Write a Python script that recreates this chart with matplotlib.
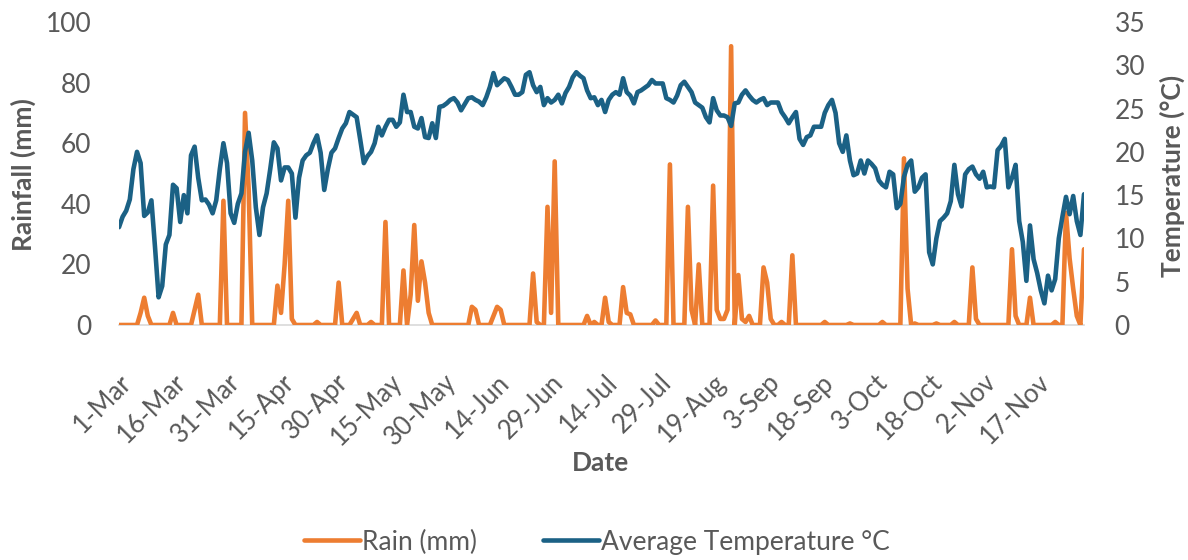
import matplotlib
matplotlib.use('Agg')
import matplotlib.pyplot as plt
import numpy as np

tick_labels = ['1-Mar', '16-Mar', '31-Mar', '15-Apr', '30-Apr', '15-May', '30-May',
               '14-Jun', '29-Jun', '14-Jul', '29-Jul', '19-Aug', '3-Sep', '18-Sep',
               '3-Oct', '18-Oct', '2-Nov', '17-Nov']

rain = [
    0, 0, 0, 0, 0, 0, 4, 9, 3, 0, 0, 0, 0, 0, 0,
    4, 0, 0, 0, 0, 0, 5, 10, 0, 0, 0, 0, 0, 0, 41,
    0, 0, 0, 0, 0, 70, 45, 0, 0, 0, 0, 0, 0, 0, 13,
    4, 20, 41, 2, 0, 0, 0, 0, 0, 0, 1, 0, 0, 0, 0,
    0, 14, 0, 0, 0, 2, 4, 0, 0, 0, 1, 0, 0, 0, 34,
    0, 0, 0, 0, 18, 0, 10, 33, 8, 21, 14, 4, 0, 0, 0,
    0, 0, 0, 0, 0, 0, 0, 0, 6, 5, 0, 0, 0, 0, 3,
    6, 5, 0, 0, 0, 0, 0, 0, 0, 0, 17, 1, 0, 0, 39,
    4, 54, 0, 0, 0, 0, 0, 0, 0, 0, 3, 0, 1, 0, 0,
    9, 1, 0, 0, 0, 12.5, 4, 3.5, 0, 0, 0, 0, 0, 0, 1.5,
    0, 0, 0, 53, 0, 0, 0, 0, 39, 5, 0, 20, 0, 0, 0,
    46, 5, 2, 2, 5, 92, 0, 16.5, 2, 1, 3, 0, 0, 0, 19,
    14, 2, 0, 0, 1, 0, 0, 23, 0, 0, 0, 0, 0, 0, 0,
    0, 1, 0, 0, 0, 0, 0, 0, 0.5, 0, 0, 0, 0, 0, 0,
    0, 0, 1, 0, 0, 0, 0, 0, 55, 12, 0, 0.5, 0, 0, 0,
    0, 0, 0.5, 0, 0, 0, 0, 1, 0, 0, 0, 0, 19, 2, 0,
    0, 0, 0, 0, 0, 0, 0, 0, 25, 3, 0, 0, 0, 9, 0,
    0, 0, 0, 0, 0, 1, 0, 0, 37, 22, 12, 3, 0, 25,
]

temp = [
    11.3, 12.5, 13.2, 14.5, 18.0, 20.0, 18.7, 12.6, 13.0, 14.4, 9.0, 3.2, 4.5, 9.3, 10.4,
    16.2, 15.8, 11.9, 15.0, 12.9, 19.6, 20.6, 17.0, 14.4, 14.5, 13.9, 12.9, 14.4, 18.0, 21.0,
    18.7, 12.9, 11.8, 14.0, 15.2, 20.0, 22.2, 19.0, 13.6, 10.4, 13.6, 15.2, 18.0, 21.1, 20.4,
    16.7, 18.2, 18.2, 17.5, 12.4, 17.0, 19.0, 19.6, 19.9, 21.0, 21.9, 19.9, 15.6, 18.0, 19.9,
    20.4, 21.6, 22.7, 23.3, 24.6, 24.3, 24.0, 21.4, 18.7, 19.5, 20.0, 21.0, 22.9, 21.9, 22.9,
    23.7, 23.7, 22.9, 23.4, 26.6, 24.6, 24.6, 22.9, 22.7, 23.9, 21.7, 21.6, 23.3, 21.6, 25.2,
    25.3, 25.6, 26.0, 26.2, 25.7, 24.8, 25.5, 26.2, 26.3, 26.0, 25.8, 25.4, 26.3, 27.5, 29.1,
    27.7, 28.1, 28.5, 28.3, 27.5, 26.6, 26.6, 26.9, 28.9, 29.2, 27.7, 26.9, 27.5, 25.4, 26.2,
    25.7, 26.0, 26.6, 25.6, 26.8, 27.5, 28.6, 29.2, 28.8, 28.5, 27.1, 26.2, 26.3, 25.4, 26.0,
    24.6, 26.0, 26.6, 26.9, 26.6, 28.5, 26.9, 26.5, 25.6, 26.9, 27.1, 27.4, 27.7, 28.3, 27.9,
    27.9, 27.9, 26.2, 26.0, 25.7, 26.5, 27.7, 28.1, 27.5, 26.9, 25.7, 25.4, 25.1, 24.0, 23.4,
    26.2, 24.8, 24.2, 24.2, 24.0, 23.0, 25.6, 25.7, 26.6, 27.1, 26.5, 26.0, 25.7, 26.0, 26.2,
    25.4, 25.7, 25.7, 25.7, 24.6, 24.0, 23.3, 24.0, 24.6, 21.5, 20.8, 21.7, 21.9, 22.9, 22.9,
    22.9, 24.5, 25.4, 26.0, 24.5, 21.0, 20.0, 21.9, 19.0, 17.3, 17.5, 19.0, 17.5, 19.0, 18.6,
    18.1, 16.7, 16.2, 15.9, 17.7, 17.4, 13.5, 14.0, 17.1, 18.5, 19.0, 15.4, 15.9, 17.0, 17.4,
    8.4, 7.0, 10.0, 12.0, 12.4, 12.9, 14.3, 18.5, 15.1, 13.7, 17.4, 18.0, 18.3, 17.4, 16.9,
    17.7, 15.9, 16.0, 15.9, 20.2, 20.7, 21.5, 15.9, 17.0, 18.5, 12.0, 9.6, 5.1, 11.5, 7.6,
    6.0, 4.0, 2.5, 5.7, 4.0, 5.3, 10.0, 12.5, 14.8, 12.8, 14.9, 12.0, 10.4, 15.1,
]

plt.rcParams['font.family'] = ['Lato', 'DejaVu Sans']
TXT = '#595959'
ORANGE = '#ED7D31'
BLUE = '#1B6185'

W, H = 1188, 560
fig = plt.figure(figsize=(W / 100, H / 100), dpi=100)
ax = fig.add_axes([119 / W, 1 - 325 / H, (1084 - 119) / W, (325 - 22) / H])
ax2 = ax.twinx()

x = np.arange(len(rain))
l1, = ax.plot(x, rain, color=ORANGE, lw=3.3, solid_joinstyle='round',
              solid_capstyle='round', label='Rain (mm)', zorder=3)
l2, = ax2.plot(x, temp, color=BLUE, lw=3.3, solid_joinstyle='round',
               solid_capstyle='round', label='Average Temperature °C', zorder=3)

ax.set_xlim(0, len(rain) - 1)
ax.set_ylim(0, 100)
ax2.set_ylim(0, 35)
ax.set_yticks(np.arange(0, 101, 20))
ax2.set_yticks(np.arange(0, 36, 5))
ax.set_xticks(np.arange(0, len(rain), 15)[:len(tick_labels)])
ax.set_xticklabels(tick_labels)

for a in (ax, ax2):
    for s in a.spines.values():
        s.set_visible(False)
ax.spines['bottom'].set_visible(True)
ax.spines['bottom'].set_color('#D9D9D9')
ax.spines['bottom'].set_linewidth(1.2)
ax.spines['bottom'].set_zorder(1)

ax.tick_params(axis='y', length=0, pad=20, labelsize=19, labelcolor=TXT)
ax2.tick_params(axis='y', length=0, pad=22, labelsize=19, labelcolor=TXT)
ax.tick_params(axis='x', length=0, pad=32, labelsize=18.5, labelcolor=TXT)
for lab in ax.get_xticklabels():
    lab.set_rotation(45)
    lab.set_ha('right')
    lab.set_va('top')
    lab.set_rotation_mode('anchor')

fig.text(23 / W, 1 - 175 / H, 'Rainfall (mm)', rotation=90, ha='center', va='center',
         fontsize=19, fontweight='bold', color=TXT)
fig.text(1172 / W, 1 - 176 / H, 'Temperature (°C)', rotation=90, ha='center', va='center',
         fontsize=19, fontweight='bold', color=TXT)
fig.text(601 / W, 1 - 463 / H, 'Date', ha='center', va='center',
         fontsize=19, fontweight='bold', color=TXT)

fig.legend(handles=[l1, l2], loc='center', bbox_to_anchor=(597 / W, 1 - 542 / H),
           ncol=2, frameon=False, fontsize=19, labelcolor=TXT,
           handlelength=2.1, handletextpad=0.1, columnspacing=2.5)

fig.savefig('out.png', dpi=100)
